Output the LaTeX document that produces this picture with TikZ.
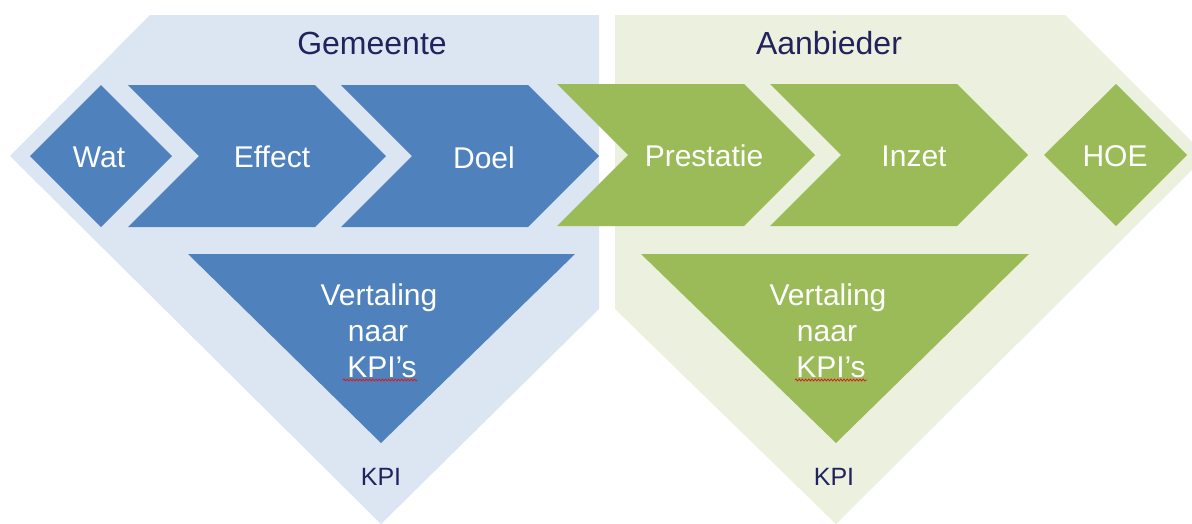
\documentclass[tikz,border=0pt]{standalone}
\usepackage{fontspec}
\setmainfont{Liberation Sans}
\usetikzlibrary{decorations.pathmorphing}
\definecolor{bgblue}{HTML}{DCE6F2}
\definecolor{bggreen}{HTML}{EBF1DE}
\definecolor{shblue}{HTML}{4F81BD}
\definecolor{shgreen}{HTML}{9BBB59}
\definecolor{navy}{HTML}{22225C}
\definecolor{squig}{HTML}{D02020}
\tikzset{
  titletext/.style={anchor=base, inner sep=0pt, text=navy, font=\fontsize{32}{38}\selectfont},
  shapetext/.style={anchor=base, inner sep=0pt, text=white, font=\fontsize{30}{36}\selectfont},
  kpitext/.style={anchor=base, inner sep=0pt, text=navy, font=\fontsize{25}{30}\selectfont},
  squiggle/.style={draw=squig, line width=0.8pt, decorate, decoration={snake, amplitude=1pt, segment length=3.2pt}}
}
\begin{document}
\begin{tikzpicture}[x=1pt,y=-1pt]
\useasboundingbox[fill=white] (0,0) rectangle (1192,523);
% backgrounds
\fill[bgblue] (150,15) -- (599,15) -- (599,309) -- (381,524) -- (10,156) -- cycle;
\fill[bggreen] (615,15) -- (1065,15) -- (1206,156) -- (836,524) -- (615,309) -- cycle;
% blue shapes
\fill[shblue] (30,156) -- (101,85) -- (172,156) -- (101,227) -- cycle;
\fill[shblue] (128,85) -- (315,85) -- (386,156) -- (315,227) -- (128,227) -- (199,156) -- cycle;
\fill[shblue] (341,85) -- (528,85) -- (599,156) -- (528,227) -- (341,227) -- (412,156) -- cycle;
\fill[shblue] (188,254) -- (575,254) -- (381,443) -- cycle;
% green shapes
\fill[shgreen] (557,84) -- (744,84) -- (815,155) -- (744,226) -- (557,226) -- (628,155) -- cycle;
\fill[shgreen] (770,84) -- (957,84) -- (1028,155) -- (957,226) -- (770,226) -- (841,155) -- cycle;
\fill[shgreen] (1044,155) -- (1116,84) -- (1187,155) -- (1116,226) -- cycle;
\fill[shgreen] (641,254) -- (1029,254) -- (836,443) -- cycle;
% titles
\node[titletext] (gemeente) at (372,54) {Gemeente};
\node[titletext] (aanbieder) at (829,54) {Aanbieder};
% blue labels
\node[shapetext] (wat) at (99,167) {Wat};
\node[shapetext] (effect) at (272,167) {Effect};
\node[shapetext] (doel) at (484,168) {Doel};
\node[shapetext] (bv1) at (379,305) {Vertaling};
\node[shapetext] (bv2) at (378,341) {naar};
\node[shapetext] (bv3) at (382,377) {KPI’s};
\draw[squiggle] (343,380) -- (417,380);
\node[kpitext] (bkpi) at (381,485) {KPI};
% green labels
\node[shapetext] (prestatie) at (704,166) {Prestatie};
\node[shapetext] (inzet) at (914,166) {Inzet};
\node[shapetext] (hoe) at (1115,166) {HOE};
\node[shapetext] (gv1) at (828,305) {Vertaling};
\node[shapetext] (gv2) at (827,341) {naar};
\node[shapetext] (gv3) at (831,377) {KPI’s};
\draw[squiggle] (795,380) -- (867,380);
\node[kpitext] (gkpi) at (834,485) {KPI};
\end{tikzpicture}
\end{document}
